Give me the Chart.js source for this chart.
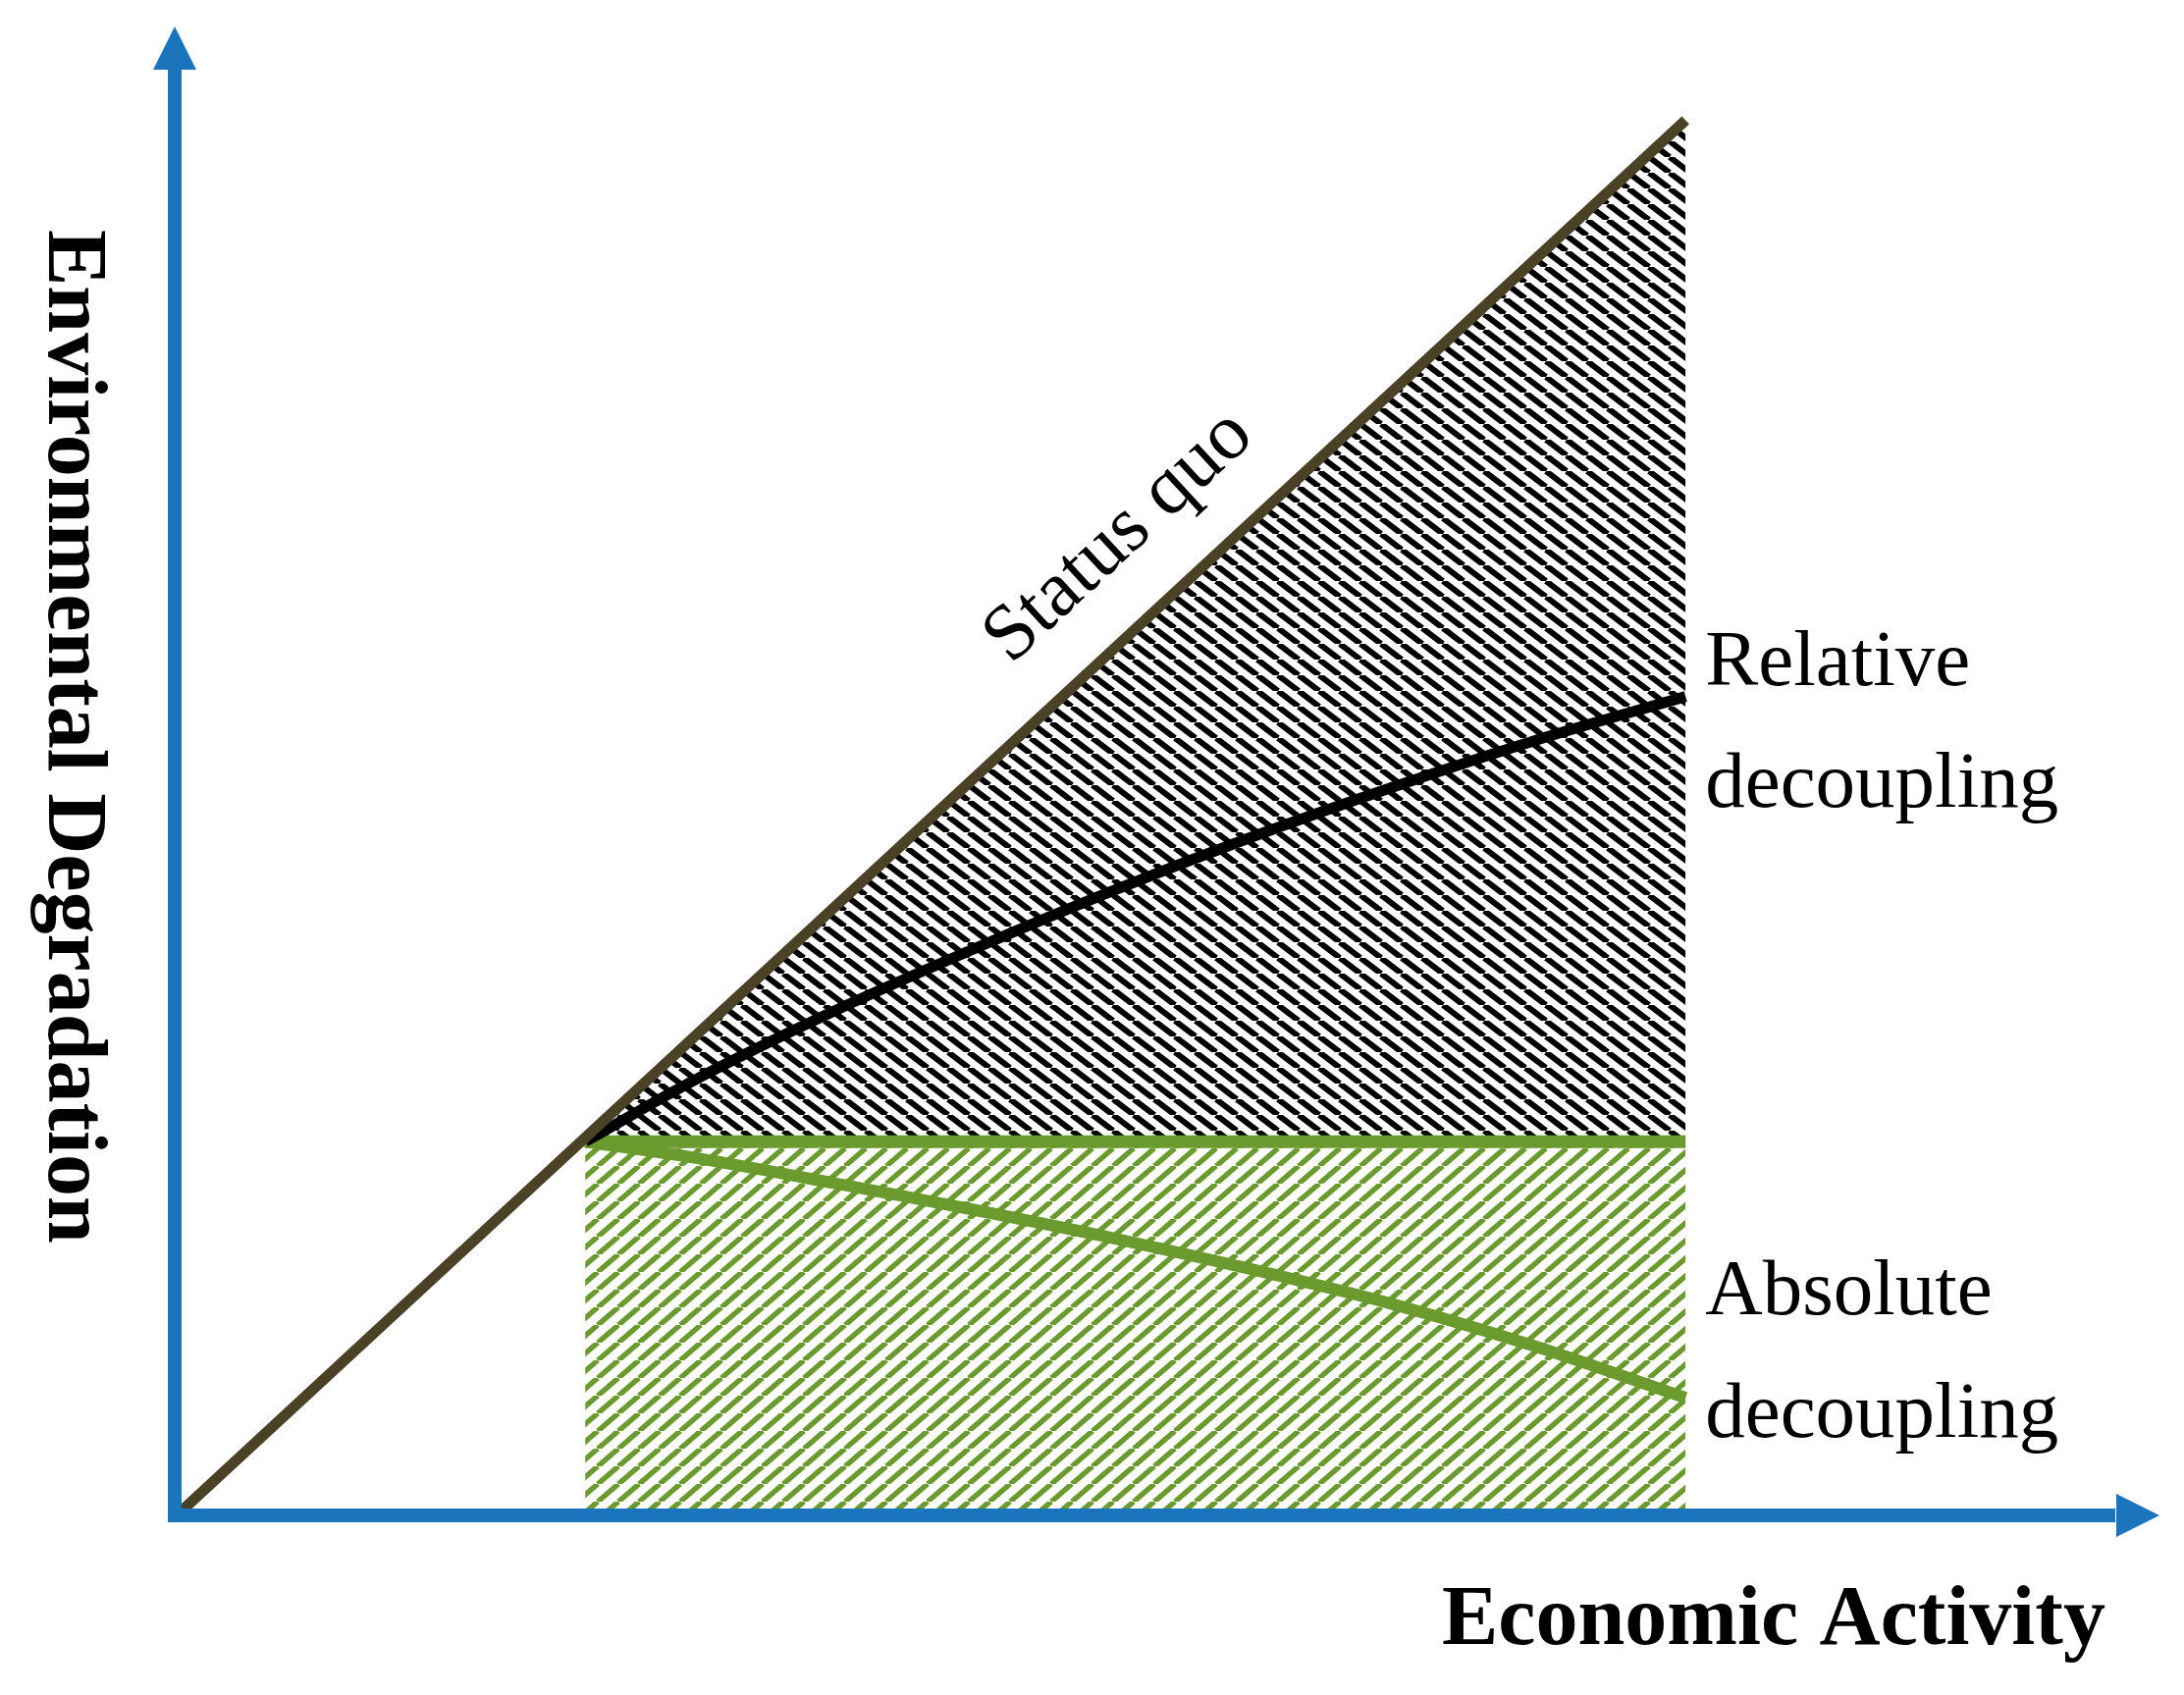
<!DOCTYPE html>
<html>
<head>
<meta charset="utf-8">
<script src="https://cdn.jsdelivr.net/npm/chart.js@4.4.1/dist/chart.umd.min.js"></script>
<style>
  html, body { margin: 0; padding: 0; background: #fff; }
  #wrap { width: 2225px; height: 1727px; }
</style>
</head>
<body>
<div id="wrap"><canvas id="grafico" width="2225" height="1727"></canvas></div>
<script>
// datos (unidades arbitrarias, ejes 0-100)
const statusQuoX = [0, 76.1];
const statusQuoY = [0, 93.7];
const kneePoint = [20.6, 25.1];
const decouplingX = [20.6, 26.2, 33.2, 40.3, 47.3, 54.3, 61.3, 68.4, 76.1];
const relativeY = [25.1, 29.3, 33.9, 38.1, 42.0, 45.6, 48.9, 52.0, 55.0];
const absoluteY = [25.1, 24.0, 22.3, 20.5, 18.6, 16.5, 14.2, 11.4, 7.9];
const axisTitles = ['Economic Activity', 'Environmental Degradation'];
const curveLabels = [['Relative', 'decoupling'], ['Absolute', 'decoupling']];
const statusLabel = 'Status quo';

const AZUL = '#1b75bc';
const MARRON = '#4b4126';
const VERDE = '#6b9a2f';

// trama de rayas diagonales (ancho w, alto h del mosaico)
function rayado(color, w, h, grosor, subeDerecha) {
  const c = document.createElement('canvas');
  c.width = w; c.height = h;
  const g = c.getContext('2d');
  g.strokeStyle = color;
  g.lineWidth = grosor;
  g.beginPath();
  for (let k = -1; k <= 1; k++) {
    if (subeDerecha) {
      g.moveTo(k * w, h); g.lineTo(k * w + w, 0);
    } else {
      g.moveTo(k * w, 0); g.lineTo(k * w + w, h);
    }
  }
  g.stroke();
  return g.createPattern(c, 'repeat');
}

const toXY = (xs, ys) => xs.map((x, i) => ({ x: x, y: ys[i] }));

const ejesYTextos = {
  id: 'ejesYTextos',
  afterDatasetsDraw(chart) {
    const ctx = chart.ctx;
    const sx = chart.scales.x, sy = chart.scales.y;
    const area = chart.chartArea;
    const ox = sx.getPixelForValue(0), oy = sy.getPixelForValue(0);
    const lw = 14;
    ctx.save();
    ctx.fillStyle = AZUL;
    // eje y
    ctx.fillRect(ox - lw / 2 - 2, area.top + 43, lw, oy - area.top - 43 + lw / 2);
    ctx.beginPath();
    ctx.moveTo(ox - 2, area.top);
    ctx.lineTo(ox - 24, area.top + 44);
    ctx.lineTo(ox + 20, area.top + 44);
    ctx.closePath();
    ctx.fill();
    // eje x
    ctx.fillRect(ox - lw / 2 - 2, oy - lw / 2, area.right - 43 - ox + lw / 2, lw);
    ctx.beginPath();
    ctx.moveTo(area.right, oy);
    ctx.lineTo(area.right - 44, oy - 22);
    ctx.lineTo(area.right - 44, oy + 22);
    ctx.closePath();
    ctx.fill();
    ctx.restore();
  },
  afterDraw(chart) {
    const ctx = chart.ctx;
    const sx = chart.scales.x, sy = chart.scales.y;
    const serif = '"Liberation Serif", "DejaVu Serif", serif';
    ctx.save();
    ctx.fillStyle = '#000';

    // titulos de ejes
    ctx.font = 'bold 86px ' + serif;
    ctx.textAlign = 'left';
    ctx.textBaseline = 'alphabetic';
    ctx.fillText(axisTitles[0], 1469, 1675);
    ctx.save();
    ctx.translate(50, 234);
    ctx.rotate(Math.PI / 2);
    ctx.fillText(axisTitles[1], 0, 0);
    ctx.restore();

    // etiqueta status quo, paralela a la recta
    const x0 = sx.getPixelForValue(statusQuoX[0]), y0 = sy.getPixelForValue(statusQuoY[0]);
    const x1 = sx.getPixelForValue(statusQuoX[1]), y1 = sy.getPixelForValue(statusQuoY[1]);
    const ang = Math.atan2(y1 - y0, x1 - x0);
    const len = Math.hypot(x1 - x0, y1 - y0);
    const ux = (x1 - x0) / len, uy = (y1 - y0) / len;
    const t = 0.66 * len, d = 80;
    const cx = x0 + ux * t + uy * d, cy = y0 + uy * t - ux * d;
    ctx.save();
    ctx.translate(cx, cy);
    ctx.rotate(ang);
    ctx.font = '81px ' + serif;
    ctx.textAlign = 'center';
    ctx.textBaseline = 'middle';
    ctx.fillText(statusLabel, 0, 0);
    ctx.restore();

    // etiquetas de las curvas
    ctx.font = '81px ' + serif;
    ctx.textAlign = 'left';
    ctx.textBaseline = 'alphabetic';
    const lx = sx.getPixelForValue(decouplingX[decouplingX.length - 1]) + 20;
    const ry = sy.getPixelForValue(relativeY[relativeY.length - 1]);
    ctx.fillText(curveLabels[0][0], lx, ry - 12);
    ctx.fillText(curveLabels[0][1], lx, ry + 112);
    const ay = sy.getPixelForValue(absoluteY[absoluteY.length - 1]);
    ctx.fillText(curveLabels[1][0], lx, ay - 85);
    ctx.fillText(curveLabels[1][1], lx, ay + 40);
    ctx.restore();
  }
};

const ctx = document.getElementById('grafico').getContext('2d');
const grafico = new Chart(ctx, {
  type: 'line',
  data: {
    datasets: [
      {
        label: 'Status quo',
        data: toXY(statusQuoX, statusQuoY),
        borderColor: MARRON,
        borderWidth: 11,
        pointRadius: 0,
        fill: false,
        clip: false
      },
      {
        label: 'Relative decoupling',
        data: toXY(decouplingX, relativeY),
        borderColor: '#000',
        borderWidth: 11,
        pointRadius: 0,
        tension: 0.35,
        fill: false,
        clip: false
      },
      {
        label: 'Absolute decoupling',
        data: toXY(decouplingX, absoluteY),
        borderColor: VERDE,
        borderWidth: 12,
        pointRadius: 0,
        tension: 0.35,
        fill: false,
        clip: false
      },
      {
        label: 'Decoupling threshold',
        data: toXY([kneePoint[0], decouplingX[decouplingX.length - 1]], [kneePoint[1], kneePoint[1]]),
        borderColor: VERDE,
        borderWidth: 13,
        pointRadius: 0,
        backgroundColor: rayado(VERDE, 21, 18, 5.5, true),
        fill: 'origin',
        clip: false
      },
      {
        label: 'Relative area',
        data: toXY([kneePoint[0], statusQuoX[1]], [kneePoint[1], statusQuoY[1]]),
        borderWidth: 0,
        borderColor: 'rgba(0,0,0,0)',
        pointRadius: 0,
        backgroundColor: rayado('#000', 21, 16, 6, false),
        fill: { value: kneePoint[1] }
      }
    ]
  },
  options: {
    responsive: false,
    devicePixelRatio: 1,
    animation: false,
    layout: { padding: { left: 180, right: 25, top: 27, bottom: 183 } },
    plugins: {
      legend: { display: false },
      tooltip: { enabled: false }
    },
    scales: {
      x: { type: 'linear', min: 0, max: 100, display: false },
      y: { type: 'linear', min: 0, max: 100, display: false }
    }
  },
  plugins: [ejesYTextos]
});
</script>
</body>
</html>
